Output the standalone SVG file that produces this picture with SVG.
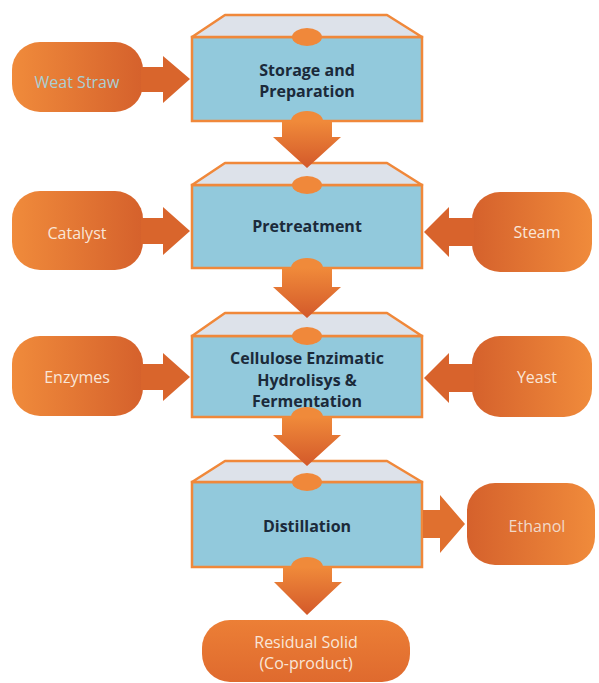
<svg xmlns="http://www.w3.org/2000/svg" width="599" height="683" viewBox="0 0 599 683">
  <defs>
    <linearGradient id="gradLR" x1="0" y1="0" x2="1" y2="0">
      <stop offset="0" stop-color="#f08b3b"/>
      <stop offset="1" stop-color="#d5612c"/>
    </linearGradient>
    <linearGradient id="gradRL" x1="0" y1="0" x2="1" y2="0">
      <stop offset="0" stop-color="#d5612c"/>
      <stop offset="1" stop-color="#f08b3b"/>
    </linearGradient>
    <linearGradient id="gradDown" x1="0" y1="0" x2="0" y2="1">
      <stop offset="0" stop-color="#f08a3a"/>
      <stop offset="1" stop-color="#d3592a"/>
    </linearGradient>
    <linearGradient id="gradRes" x1="0" y1="0" x2="0" y2="1">
      <stop offset="0" stop-color="#ec7f36"/>
      <stop offset="1" stop-color="#df6a2e"/>
    </linearGradient>
    <style>
      .body { fill: #92c9dc; stroke: #f0883a; stroke-width: 2.5; }
      .lid { fill: #dde2ea; stroke: #f0883a; stroke-width: 2.5; stroke-linejoin: round; }
      .knob { fill: #f0883a; }
      .title { font-family: "Open Sans", "Liberation Sans", sans-serif; font-weight: bold; font-size: 16px; fill: #1b2a3a; text-anchor: middle; }
      .label { font-family: "Open Sans", "Liberation Sans", sans-serif; font-size: 16px; fill: #f9e6d8; text-anchor: middle; }
      .pale { fill: #a9cfd4; }
      .soft { fill: #f1d9c9; }
    </style>
  </defs>

  <g id="storage">
    <rect class="body" x="192" y="37" width="230" height="84"/>
    <path class="lid" d="M225,15 H387 L422,37 H192 Z"/>
    <ellipse class="knob" cx="307" cy="37" rx="15" ry="9"/>
    <text class="title" x="307" y="76">Storage and</text>
    <text class="title" x="307" y="97">Preparation</text>
  </g>

  <g id="pretreatment">
    <rect class="body" x="192" y="185" width="230" height="83"/>
    <path class="lid" d="M225,163 H387 L422,185 H192 Z"/>
    <ellipse class="knob" cx="307" cy="185" rx="15" ry="9"/>
    <text class="title" x="307" y="232">Pretreatment</text>
  </g>

  <g id="hydrolysis">
    <rect class="body" x="192" y="336" width="230" height="81"/>
    <path class="lid" d="M225,313 H387 L422,336 H192 Z"/>
    <ellipse class="knob" cx="307" cy="336" rx="15" ry="9"/>
    <text class="title" x="307" y="364">Cellulose Enzimatic</text>
    <text class="title" x="307" y="386">Hydrolisys &amp;</text>
    <text class="title" x="307" y="407">Fermentation</text>
  </g>

  <g id="distillation">
    <rect class="body" x="192" y="482" width="230" height="85"/>
    <path class="lid" d="M225,461 H387 L422,482 H192 Z"/>
    <ellipse class="knob" cx="307" cy="482" rx="15" ry="9"/>
    <text class="title" x="307" y="532">Distillation</text>
  </g>

  <g id="wheat-straw">
    <rect x="12" y="42" width="131" height="70" rx="28" fill="url(#gradLR)"/>
    <text class="label pale" x="77" y="88">Weat Straw</text>
  </g>

  <g id="catalyst">
    <rect x="12" y="191" width="131" height="79" rx="28" fill="url(#gradLR)"/>
    <text class="label" x="77" y="239">Catalyst</text>
  </g>

  <g id="enzymes">
    <rect x="12" y="336" width="131" height="80" rx="28" fill="url(#gradLR)"/>
    <text class="label" x="77" y="383">Enzymes</text>
  </g>

  <g id="steam">
    <rect x="472" y="192" width="120" height="80" rx="28" fill="url(#gradRL)"/>
    <text class="label" x="537" y="238">Steam</text>
  </g>

  <g id="yeast">
    <rect x="472" y="336" width="120" height="81" rx="28" fill="url(#gradRL)"/>
    <text class="label" x="537" y="383">Yeast</text>
  </g>

  <g id="ethanol">
    <rect x="467" y="483" width="128" height="82" rx="28" fill="url(#gradRL)"/>
    <text class="label soft" x="537" y="532">Ethanol</text>
  </g>

  <g id="residual-solid">
    <rect x="202" y="620" width="208" height="62" rx="28" fill="url(#gradRes)"/>
    <text class="label" x="306" y="648">Residual Solid</text>
    <text class="label" x="306" y="669">(Co-product)</text>
  </g>

  <!-- connectors: block arrows between stages and from inputs, drawn over the stage boxes -->
  <g id="connectors">
    <!-- stage to stage, each starting from a round outlet at the box bottom -->
    <ellipse cx="307" cy="121" rx="16" ry="10" fill="#f08a3a"/>
    <path d="M282,121 H332 V137 H341 L307,168 L273,137 H282 Z" fill="url(#gradDown)"/>
    <ellipse cx="307" cy="268" rx="16" ry="10" fill="#f08a3a"/>
    <path d="M282,268 H332 V287 H341 L307,318 L273,287 H282 Z" fill="url(#gradDown)"/>
    <ellipse cx="307" cy="417" rx="16" ry="10" fill="#f08a3a"/>
    <path d="M282,417 H332 V435 H341 L307,466 L273,435 H282 Z" fill="url(#gradDown)"/>
    <ellipse cx="307" cy="567" rx="16" ry="10" fill="#f08a3a"/>
    <path d="M283,567 H332 V582 H342 L307,615 L274,582 H283 Z" fill="url(#gradDown)"/>
    <!-- inputs from the left -->
    <path d="M141,67 H163 V56 L190,79 L163,103 V92 H141 Z" fill="#d9652c"/>
    <path d="M141,218 H163 V207 L190,231 L163,255 V244 H141 Z" fill="#d9652c"/>
    <path d="M141,364 H163 V353 L190,377 L163,401 V390 H141 Z" fill="#d9652c"/>
    <!-- inputs from the right -->
    <path d="M474,218 H449 V207 L424,232 L449,257 V246 H474 Z" fill="#d8632c"/>
    <path d="M474,364 H449 V353 L424,378 L449,403 V392 H474 Z" fill="#d8632c"/>
    <!-- output to the right -->
    <path d="M423,510 H440 V495 L465,524 L440,553 V538 H423 Z" fill="#e0702f"/>
  </g>
</svg>
